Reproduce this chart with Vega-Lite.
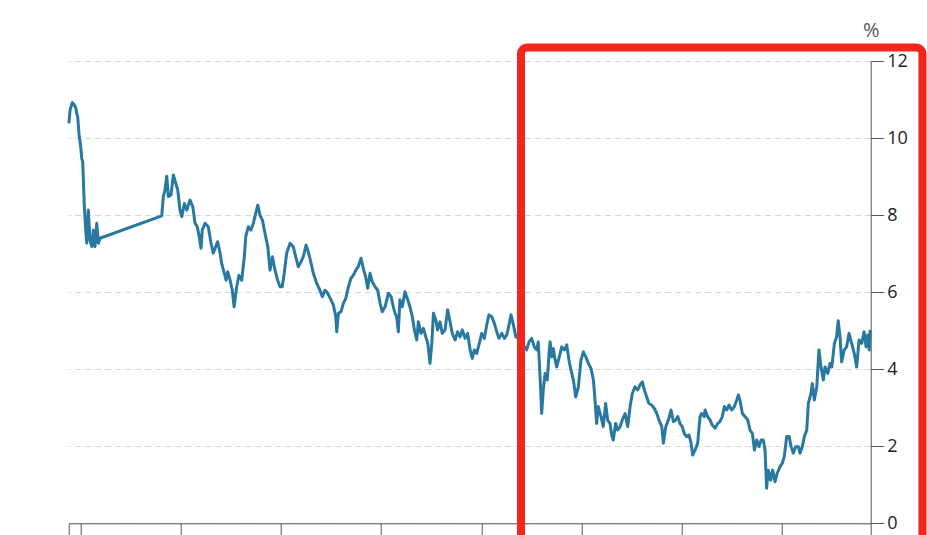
{
  "$schema": "https://vega.github.io/schema/vega-lite/v6.json",
  "width": 802,
  "height": 462.3,
  "autosize": {"type": "none"},
  "padding": {"top": 61, "left": 68.7, "right": 56.3, "bottom": 11.7},
  "background": "white",
  "config": {
    "view": {"stroke": null},
    "font": "Open Sans",
    "axis": {"labelFont": "Open Sans", "titleFont": "Open Sans"}
  },
  "datasets": {
    "yields": [
      {"t":1984.43,"v":10.38},{"t":1984.49,"v":10.73},{"t":1984.60,"v":10.92},{"t":1984.70,"v":10.86},{"t":1984.78,"v":10.77},{"t":1984.82,"v":10.64},{"t":1984.87,"v":10.55},{"t":1984.93,"v":10.12},{"t":1985.02,"v":9.77},{"t":1985.07,"v":9.47},{"t":1985.12,"v":9.38},{"t":1985.20,"v":8.22},{"t":1985.27,"v":7.61},{"t":1985.32,"v":7.27},{"t":1985.40,"v":8.13},{"t":1985.48,"v":7.35},{"t":1985.57,"v":7.18},{"t":1985.65,"v":7.61},{"t":1985.73,"v":7.18},{"t":1985.82,"v":7.79},{"t":1985.90,"v":7.27},{"t":1985.98,"v":7.40},
      {"t":1989.06,"v":7.98},{"t":1989.14,"v":8.48},{"t":1989.22,"v":8.65},{"t":1989.31,"v":9.01},{"t":1989.39,"v":8.48},{"t":1989.52,"v":8.52},{"t":1989.64,"v":9.04},{"t":1989.76,"v":8.82},{"t":1989.86,"v":8.65},{"t":1989.97,"v":8.13},{"t":1990.06,"v":7.96},{"t":1990.19,"v":8.30},{"t":1990.31,"v":8.13},{"t":1990.47,"v":8.39},{"t":1990.61,"v":8.22},{"t":1990.72,"v":7.79},{"t":1990.83,"v":7.70},{"t":1990.93,"v":7.44},{"t":1991.02,"v":7.14},{"t":1991.08,"v":7.61},{"t":1991.22,"v":7.79},{"t":1991.38,"v":7.70},{"t":1991.52,"v":7.27},{"t":1991.63,"v":7.01},{"t":1991.75,"v":7.18},{"t":1991.85,"v":7.31},{"t":1991.97,"v":7.01},{"t":1992.05,"v":6.75},{"t":1992.18,"v":6.49},{"t":1992.27,"v":6.31},{"t":1992.35,"v":6.53},{"t":1992.47,"v":6.31},{"t":1992.58,"v":6.05},{"t":1992.67,"v":5.62},{"t":1992.80,"v":6.14},{"t":1992.91,"v":6.44},
      {"t":1993.05,"v":6.31},{"t":1993.18,"v":6.92},{"t":1993.25,"v":7.44},{"t":1993.38,"v":7.70},{"t":1993.51,"v":7.61},{"t":1993.63,"v":7.79},{"t":1993.75,"v":8.05},{"t":1993.85,"v":8.26},{"t":1993.96,"v":8.00},{"t":1994.08,"v":7.87},{"t":1994.21,"v":7.53},{"t":1994.35,"v":7.18},{"t":1994.46,"v":6.57},{"t":1994.58,"v":6.92},{"t":1994.71,"v":6.57},{"t":1994.84,"v":6.31},{"t":1994.96,"v":6.14},{"t":1995.07,"v":6.14},{"t":1995.17,"v":6.49},{"t":1995.29,"v":7.01},{"t":1995.46,"v":7.27},{"t":1995.62,"v":7.18},{"t":1995.74,"v":6.92},{"t":1995.87,"v":6.66},{"t":1996.01,"v":6.79},{"t":1996.12,"v":6.92},{"t":1996.26,"v":7.22},{"t":1996.37,"v":7.05},{"t":1996.51,"v":6.75},{"t":1996.62,"v":6.49},{"t":1996.79,"v":6.23},{"t":1996.95,"v":6.05},{"t":1997.07,"v":5.88},{"t":1997.20,"v":6.05},{"t":1997.34,"v":5.97},{"t":1997.50,"v":5.80},{"t":1997.62,"v":5.67},{"t":1997.74,"v":5.36},{"t":1997.79,"v":4.97},{"t":1997.87,"v":5.45},{"t":1998.00,"v":5.49},{"t":1998.12,"v":5.71},{"t":1998.24,"v":5.84},{"t":1998.37,"v":6.14},{"t":1998.50,"v":6.36},{"t":1998.62,"v":6.44},{"t":1998.74,"v":6.57},{"t":1998.86,"v":6.66},{"t":1999.00,"v":6.88},{"t":1999.11,"v":6.62},{"t":1999.23,"v":6.40},{"t":1999.33,"v":6.10},{"t":1999.45,"v":6.49},{"t":1999.56,"v":6.27},{"t":1999.70,"v":6.14},{"t":1999.83,"v":6.05},{"t":1999.95,"v":5.71},
      {"t":2000.06,"v":5.49},{"t":2000.20,"v":5.62},{"t":2000.36,"v":5.97},{"t":2000.50,"v":5.88},{"t":2000.61,"v":5.62},{"t":2000.70,"v":5.45},{"t":2000.78,"v":5.36},{"t":2000.86,"v":4.97},{"t":2000.94,"v":5.80},{"t":2001.06,"v":5.62},{"t":2001.19,"v":6.01},{"t":2001.33,"v":5.80},{"t":2001.44,"v":5.62},{"t":2001.56,"v":5.36},{"t":2001.66,"v":5.02},{"t":2001.78,"v":4.76},{"t":2001.86,"v":5.23},{"t":2001.99,"v":4.93},{"t":2002.11,"v":5.06},{"t":2002.23,"v":4.84},{"t":2002.33,"v":4.67},{"t":2002.44,"v":4.15},{"t":2002.53,"v":4.67},{"t":2002.61,"v":5.45},{"t":2002.73,"v":5.28},{"t":2002.82,"v":5.02},{"t":2002.94,"v":5.23},{"t":2003.05,"v":4.93},{"t":2003.19,"v":5.02},{"t":2003.32,"v":5.54},{"t":2003.44,"v":5.23},{"t":2003.55,"v":4.93},{"t":2003.69,"v":4.76},{"t":2003.82,"v":4.97},{"t":2003.94,"v":4.84},{"t":2004.05,"v":5.02},{"t":2004.19,"v":4.80},{"t":2004.32,"v":4.93},{"t":2004.44,"v":4.50},{"t":2004.55,"v":4.28},{"t":2004.65,"v":4.50},{"t":2004.77,"v":4.41},{"t":2004.88,"v":4.63},{"t":2005.02,"v":4.93},{"t":2005.15,"v":4.80},{"t":2005.27,"v":5.15},{"t":2005.38,"v":5.41},{"t":2005.52,"v":5.36},{"t":2005.65,"v":5.19},{"t":2005.77,"v":4.97},{"t":2005.88,"v":4.80},{"t":2006.02,"v":4.93},{"t":2006.15,"v":4.80},{"t":2006.27,"v":4.89},{"t":2006.38,"v":5.15},{"t":2006.48,"v":5.41},{"t":2006.60,"v":5.15},{"t":2006.72,"v":4.84},{"t":2006.88,"v":4.81},
      {"t":2007.08,"v":4.63},{"t":2007.26,"v":4.50},{"t":2007.38,"v":4.71},{"t":2007.51,"v":4.80},{"t":2007.64,"v":4.58},{"t":2007.76,"v":4.50},{"t":2007.84,"v":4.71},{"t":2007.93,"v":3.80},{"t":2008.01,"v":2.85},{"t":2008.09,"v":3.46},{"t":2008.18,"v":3.89},{"t":2008.29,"v":3.72},{"t":2008.39,"v":4.50},{"t":2008.43,"v":4.71},{"t":2008.51,"v":4.32},{"t":2008.59,"v":4.54},{"t":2008.68,"v":4.24},{"t":2008.76,"v":4.06},{"t":2008.87,"v":4.28},{"t":2009.01,"v":4.58},{"t":2009.14,"v":4.50},{"t":2009.26,"v":4.63},{"t":2009.37,"v":4.24},{"t":2009.47,"v":3.98},{"t":2009.59,"v":3.72},{"t":2009.71,"v":3.28},{"t":2009.84,"v":3.54},{"t":2009.97,"v":4.24},{"t":2010.09,"v":4.45},{"t":2010.21,"v":4.32},{"t":2010.34,"v":4.15},{"t":2010.47,"v":4.02},{"t":2010.59,"v":3.72},{"t":2010.67,"v":3.20},{"t":2010.75,"v":2.59},{"t":2010.83,"v":3.03},{"t":2010.97,"v":2.77},{"t":2011.08,"v":2.51},{"t":2011.20,"v":3.11},{"t":2011.30,"v":2.68},{"t":2011.42,"v":2.59},{"t":2011.50,"v":2.29},{"t":2011.58,"v":2.16},{"t":2011.70,"v":2.59},{"t":2011.80,"v":2.42},{"t":2011.92,"v":2.51},{"t":2012.03,"v":2.68},{"t":2012.17,"v":2.85},{"t":2012.30,"v":2.51},{"t":2012.42,"v":3.03},{"t":2012.53,"v":3.37},{"t":2012.66,"v":3.54},{"t":2012.80,"v":3.46},{"t":2012.91,"v":3.59},{"t":2013.03,"v":3.67},{"t":2013.13,"v":3.46},{"t":2013.25,"v":3.28},{"t":2013.36,"v":3.11},{"t":2013.50,"v":3.07},{"t":2013.63,"v":2.98},{"t":2013.75,"v":2.85},{"t":2013.86,"v":2.68},{"t":2014.00,"v":2.51},{"t":2014.08,"v":2.08},{"t":2014.20,"v":2.51},{"t":2014.33,"v":2.68},{"t":2014.46,"v":2.94},{"t":2014.58,"v":2.64},{"t":2014.70,"v":2.68},{"t":2014.80,"v":2.77},{"t":2014.91,"v":2.59},{"t":2015.02,"v":2.51},{"t":2015.12,"v":2.33},{"t":2015.24,"v":2.25},{"t":2015.36,"v":2.29},{"t":2015.46,"v":2.08},{"t":2015.54,"v":1.77},{"t":2015.66,"v":1.90},{"t":2015.79,"v":2.08},{"t":2015.91,"v":2.77},{"t":2015.99,"v":2.85},{"t":2016.12,"v":2.77},{"t":2016.16,"v":2.94},{"t":2016.29,"v":2.77},{"t":2016.41,"v":2.68},{"t":2016.52,"v":2.55},{"t":2016.66,"v":2.47},{"t":2016.79,"v":2.59},{"t":2016.90,"v":2.64},{"t":2017.02,"v":2.77},{"t":2017.12,"v":3.03},{"t":2017.24,"v":2.94},{"t":2017.35,"v":3.07},{"t":2017.49,"v":2.94},{"t":2017.62,"v":3.03},{"t":2017.74,"v":3.20},{"t":2017.82,"v":3.33},{"t":2017.90,"v":3.20},{"t":2018.02,"v":2.85},{"t":2018.15,"v":2.77},{"t":2018.29,"v":2.68},{"t":2018.40,"v":2.42},{"t":2018.52,"v":2.33},{"t":2018.62,"v":1.90},{"t":2018.73,"v":2.16},{"t":2018.85,"v":1.99},{"t":2018.95,"v":2.16},{"t":2019.06,"v":2.16},{"t":2019.15,"v":1.90},{"t":2019.23,"v":0.91},{"t":2019.31,"v":1.38},{"t":2019.43,"v":1.12},{"t":2019.53,"v":1.38},{"t":2019.65,"v":1.08},{"t":2019.76,"v":1.30},{"t":2019.90,"v":1.47},{"t":2020.01,"v":1.56},{"t":2020.11,"v":1.73},{"t":2020.23,"v":2.25},{"t":2020.35,"v":2.25},{"t":2020.45,"v":1.99},{"t":2020.56,"v":1.82},{"t":2020.68,"v":1.99},{"t":2020.81,"v":1.99},{"t":2020.89,"v":1.82},{"t":2021.01,"v":1.99},{"t":2021.11,"v":2.25},{"t":2021.23,"v":2.42},{"t":2021.31,"v":3.11},{"t":2021.44,"v":3.37},{"t":2021.51,"v":3.63},{"t":2021.61,"v":3.20},{"t":2021.73,"v":3.54},{"t":2021.84,"v":4.50},{"t":2021.94,"v":4.06},{"t":2022.06,"v":3.72},{"t":2022.14,"v":4.06},{"t":2022.28,"v":3.89},{"t":2022.39,"v":4.15},{"t":2022.48,"v":4.06},{"t":2022.61,"v":4.67},{"t":2022.72,"v":4.84},{"t":2022.80,"v":5.26},{"t":2022.89,"v":4.84},{"t":2022.97,"v":4.19},{"t":2023.10,"v":4.50},{"t":2023.22,"v":4.58},{"t":2023.34,"v":4.93},{"t":2023.47,"v":4.67},{"t":2023.60,"v":4.41},{"t":2023.72,"v":4.06},{"t":2023.84,"v":4.76},{"t":2023.97,"v":4.67},{"t":2024.09,"v":4.97},{"t":2024.19,"v":4.58},{"t":2024.27,"v":4.89},{"t":2024.35,"v":4.50},{"t":2024.39,"v":5.02}
    ],
    "highlight": [
      {"t": 2006.98, "t2": 2027.0, "v": -1, "v2": 12.35}
    ]
  },
  "encoding": {
    "x": {
      "field": "t", "type": "quantitative", "title": null,
      "scale": {"domain": [1984.42, 2024.42], "nice": false, "zero": false},
      "axis": {
        "orient": "bottom", "title": null,
        "values": [1984.42, 1985, 1990, 1995, 2000, 2005, 2010, 2015, 2020, 2024.42],
        "labels": false,
        "grid": false, "tickSize": 14, "tickColor": "#555", "domainColor": "#555",
        "tickWidth": 1, "domainWidth": 1
      }
    },
    "y": {
      "field": "v", "type": "quantitative", "title": "%",
      "scale": {"domain": [0, 12], "nice": false},
      "axis": {
        "orient": "right", "title": "%",
        "values": [0, 2, 4, 6, 8, 10, 12],
        "grid": true, "gridColor": "#d6d6d6", "gridDash": [6, 4], "gridWidth": 1,
        "tickSize": 13, "tickColor": "#555", "domainColor": "#555",
        "labelPadding": 3, "labelFontSize": 18, "labelColor": "#222",
        "labelFlush": false, "labelOverlap": false,
        "titleAngle": 0, "titleAlign": "center", "titleBaseline": "alphabetic",
        "titleX": 0, "titleY": -25, "titleFontSize": 20, "titleFontWeight": "normal",
        "titleColor": "#555"
      }
    }
  },
  "layer": [
    {
      "data": {"name": "yields"},
      "mark": {"type": "line", "color": "#2878a2", "strokeWidth": 3, "strokeJoin": "round"}
    },
    {
      "data": {"name": "highlight"},
      "mark": {"type": "rect", "fill": null, "fillOpacity": 0, "stroke": "#f4251b", "strokeWidth": 8, "cornerRadius": 6},
      "encoding": {
        "x2": {"field": "t2"},
        "y2": {"field": "v2"}
      }
    }
  ]
}
